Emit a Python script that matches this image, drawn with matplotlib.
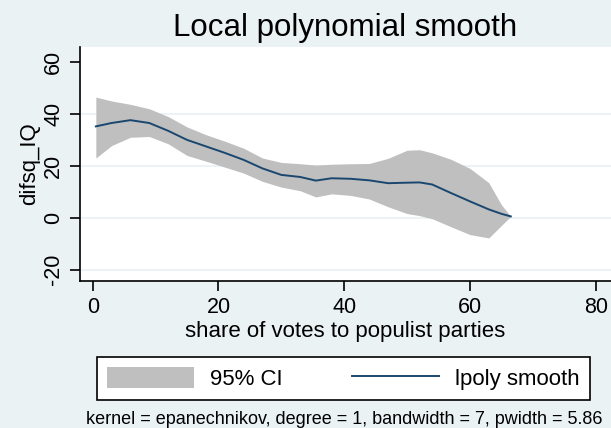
import matplotlib.pyplot as plt
import numpy as np
from matplotlib.patches import Patch
from matplotlib.lines import Line2D

plt.rcParams['font.family'] = ['Liberation Sans', 'DejaVu Sans']

# lpoly estimate of difsq_IQ against populist vote share, with 95% band
share = [0.5, 3, 6, 9, 12, 15, 18, 21, 24, 27, 30, 33, 35.5, 38, 41, 44,
         47, 50, 52, 54, 57, 60, 63, 65, 66.5]
smooth = [35.2, 36.5, 37.6, 36.5, 33.5, 30.0, 27.5, 25.0, 22.3, 19.0, 16.5,
          15.7, 14.3, 15.2, 15.0, 14.4, 13.3, 13.5, 13.6, 12.8, 9.5, 6.3,
          3.2, 1.5, 0.5]
ci_upper = [46.5, 45.0, 43.7, 42.0, 39.0, 35.0, 32.0, 29.5, 26.8, 23.0, 21.3,
            20.8, 20.3, 20.6, 20.8, 20.9, 22.9, 26.0, 26.2, 25.0, 22.5, 19.0,
            13.5, 5.0, 0.5]
ci_lower = [23.0, 27.8, 31.0, 31.3, 28.5, 24.0, 21.8, 19.5, 17.2, 14.0, 11.8,
            10.4, 8.0, 9.2, 8.6, 7.2, 4.2, 1.6, 0.8, -0.4, -3.5, -6.5, -7.8,
            -3.0, 0.5]

xticks = [0, 20, 40, 60, 80]
yticks = [-20, 0, 20, 40, 60]
ygrid = [-20, 0, 20, 40]

bg = '#EAF2F3'
navy = '#1A476F'
ci_gray = '#BFBFBF'

fig = plt.figure(figsize=(6.11, 4.28), dpi=100, facecolor=bg)
ax = fig.add_axes([80/611, 1 - 281/428, 531/611, 234/428])
ax.set_facecolor('white')

for g in ygrid:
    ax.axhline(g, color=bg, linewidth=1.3, zorder=0)

ax.fill_between(share, ci_lower, ci_upper, color=ci_gray, linewidth=0, zorder=1)
ax.plot(share, smooth, color=navy, linewidth=1.4, zorder=2)

ax.set_xlim(-2.02, 82.44)
ax.set_ylim(-24.4, 65.8)
ax.set_xticks(xticks)
ax.set_yticks(yticks)
ax.set_yticklabels([str(v) for v in yticks], rotation=90, va='center')

for side in ['top', 'right']:
    ax.spines[side].set_visible(False)
for side in ['left', 'bottom']:
    ax.spines[side].set_linewidth(1.2)
    ax.spines[side].set_color('black')

ax.tick_params(axis='both', direction='out', length=7.5, width=1.2,
               labelsize=15.5, colors='black')
ax.tick_params(axis='x', pad=4)
ax.tick_params(axis='y', pad=4)

ax.set_xlabel('share of votes to populist parties', fontsize=16)
ax.xaxis.set_label_coords(0.5, -(332 - 281) / 234)
ax.xaxis.label.set_va('center')
ax.set_ylabel('difsq_IQ', fontsize=16)
ax.yaxis.set_label_coords((29.5 - 80) / 531, 0.5)
ax.yaxis.label.set_va('center')

fig.text(345.5/611, 1 - 36/428, 'Local polynomial smooth', fontsize=22.5,
         ha='center', va='baseline')

# legend box stretched across a fixed width
handles = [Patch(facecolor=ci_gray, edgecolor='none'),
           Line2D([], [], color=navy, linewidth=1.4)]
leg = fig.legend(handles, ['95% CI', 'lpoly smooth'], ncol=2,
                 loc='center', mode='expand',
                 bbox_to_anchor=(97/611, 1 - 400/428, 493/611, 43/428),
                 fontsize=16, frameon=True, fancybox=False,
                 handlelength=3.9, handleheight=1.05, handletextpad=0.75,
                 columnspacing=2.3, borderpad=0.45, borderaxespad=0)
leg.get_frame().set_edgecolor('black')
leg.get_frame().set_linewidth(1.2)
leg.get_frame().set_facecolor('white')
leg.get_frame().set_alpha(1)

fig.text(344/611, 1 - 424/428,
         'kernel = epanechnikov, degree = 1, bandwidth = 7, pwidth = 5.86',
         fontsize=13, ha='center', va='baseline')

fig.savefig('out.png', dpi=100, facecolor=bg)
